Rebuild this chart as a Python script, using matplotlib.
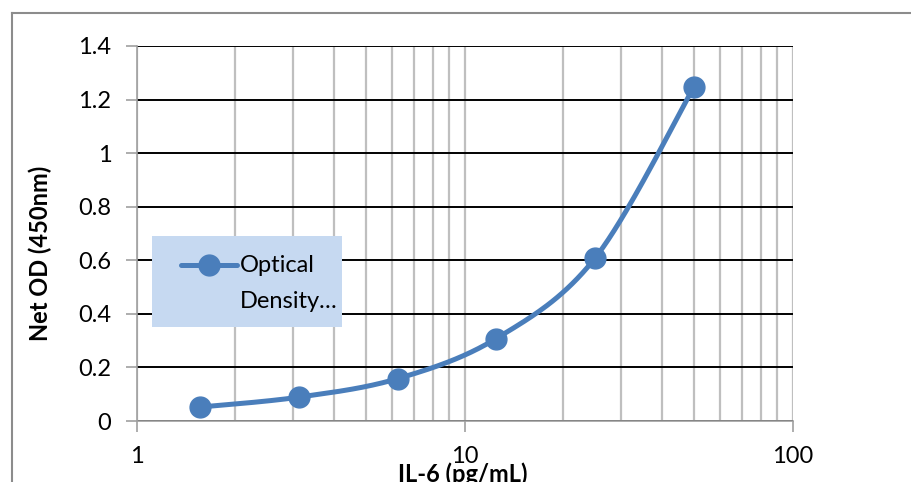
import matplotlib
matplotlib.use("Agg")
import matplotlib.pyplot as plt
import numpy as np
from matplotlib.lines import Line2D
from matplotlib.patches import Rectangle
from matplotlib.ticker import LogLocator, NullFormatter, FixedLocator

plt.rcParams['font.family'] = ['Lato', 'DejaVu Sans']

# IL-6 standard curve
conc = [1.5625, 3.125, 6.25, 12.5, 25, 50]
od = [0.052, 0.089, 0.158, 0.308, 0.608, 1.246]
series_name = ["Optical", "Density…"]

blue = '#4a7ebb'


def smooth_curve(xs, ys, sx, sy, n=40):
    # Excel-like smoothing: cardinal Bezier in screen-ish space
    u = np.log10(np.asarray(xs, float)) * sx
    v = np.asarray(ys, float) * sy
    pts = np.column_stack([u, v])
    out = []
    for i in range(len(pts) - 1):
        p0 = pts[i - 1] if i > 0 else pts[i]
        p1 = pts[i]
        p2 = pts[i + 1]
        p3 = pts[i + 2] if i + 2 < len(pts) else pts[i + 1]
        c1 = p1 + (p2 - p0) / 6
        c2 = p2 - (p3 - p1) / 6
        t = np.linspace(0, 1, n)[:, None]
        seg = ((1 - t) ** 3) * p1 + 3 * ((1 - t) ** 2) * t * c1 + 3 * (1 - t) * t ** 2 * c2 + t ** 3 * p2
        out.append(seg if i == 0 else seg[1:])
    out = np.vstack(out)
    return 10 ** (out[:, 0] / sx), out[:, 1] / sy


fig = plt.figure(figsize=(9.11, 4.82), dpi=100)
L, R, T, B = 136.5, 792.5, 46, 421
W, H = R - L, B - T
ax = fig.add_axes([L / 911, 1 - B / 482, W / 911, H / 482])

ax.set_xscale('log')
ax.set_xlim(1, 100)
ax.set_ylim(0, 1.4)

ax.yaxis.set_major_locator(FixedLocator([0, 0.2, 0.4, 0.6, 0.8, 1.0, 1.2, 1.4]))
ax.set_yticklabels(['0', '0.2', '0.4', '0.6', '0.8', '1', '1.2', '1.4'])
ax.xaxis.set_major_locator(FixedLocator([1, 10, 100]))
ax.set_xticklabels(['1', '10', '100'])
ax.xaxis.set_minor_locator(LogLocator(base=10, subs=np.arange(2, 10)))
ax.xaxis.set_minor_formatter(NullFormatter())

ax.grid(True, which='both', axis='x', color='#bfbfbf', lw=1.6)
ax.grid(True, which='major', axis='y', color='black', lw=1.4)
ax.set_axisbelow(True)

for s in ['top', 'right']:
    ax.spines[s].set_visible(False)
for s in ['left', 'bottom']:
    ax.spines[s].set_color('#a0a0a0')
    ax.spines[s].set_linewidth(1.2)

ax.tick_params(axis='both', which='major', direction='out', length=8, width=1.2,
               color='#a0a0a0', labelsize=17)
ax.tick_params(axis='x', which='minor', length=0)
ax.tick_params(axis='x', which='major', pad=10)
ax.tick_params(axis='y', which='major', pad=10)

sx_, sy_ = smooth_curve(conc, od, W / 2, H / 1.4)
ax.plot(sx_, sy_, color=blue, lw=3.6, solid_capstyle='round', zorder=3)
ax.plot(conc, od, 'o', color=blue, ms=15, zorder=4, clip_on=False)

ax.set_xlabel('IL-6 (pg/mL)', fontsize=17, fontweight='bold', va='top')
ax.xaxis.set_label_coords((462.5 - L) / W, -(462 - B) / H)
ax.set_ylabel('Net OD (450nm)', fontsize=17, fontweight='bold', va='center')
ax.yaxis.set_label_coords(-(L - 40) / W, 0.5 - (253 - (T + B) / 2) / H)

# legend box, drawn like the Excel one (marker aligned with first line)
tr = ax.transAxes
ax.add_patch(Rectangle(((152 - L) / W, (B - 327) / H), 190 / W, 91 / H,
                       transform=tr, facecolor='#c6d9f1', edgecolor='none', zorder=5))
ax.add_artist(Line2D([(181 - L) / W, (237 - L) / W], [(B - 265) / H] * 2, transform=tr,
                     color=blue, lw=3.6, solid_capstyle='round', zorder=6))
ax.add_artist(Line2D([(209 - L) / W], [(B - 265) / H], transform=tr, marker='o', ms=15,
                     color=blue, zorder=7))
ax.text((240 - L) / W, (B - 265) / H, series_name[0], transform=tr, fontsize=17,
        va='center', ha='left', zorder=7)
ax.text((240 - L) / W, (B - 302) / H, series_name[1], transform=tr, fontsize=17,
        va='center', ha='left', zorder=7)

# outer chart frame
fig.add_artist(Line2D([12 / 911, 12 / 911], [0, 1 - 13 / 482], color='#8c8c8c', lw=1.5,
                      transform=fig.transFigure))
fig.add_artist(Line2D([12 / 911, 1], [1 - 13 / 482, 1 - 13 / 482], color='#8c8c8c', lw=1.5,
                      transform=fig.transFigure))

fig.savefig('out.png', dpi=100)
